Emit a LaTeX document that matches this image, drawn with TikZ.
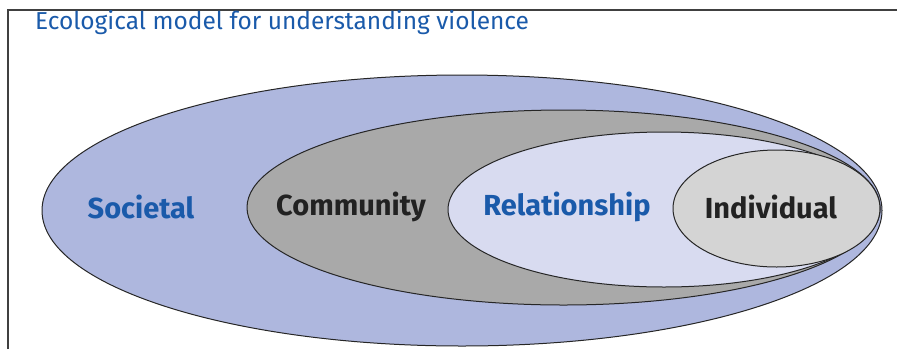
\documentclass[tikz,border=0pt]{standalone}
\usepackage{fontspec}
\setmainfont{Fira Sans}
\definecolor{societalfill}{HTML}{AEB7DE}
\definecolor{communityfill}{HTML}{A9A9A9}
\definecolor{relationfill}{HTML}{D8DBF0}
\definecolor{individualfill}{HTML}{D4D4D4}
\definecolor{labelblue}{HTML}{1A5AAA}
\definecolor{labeldark}{HTML}{222222}
\begin{document}
\begin{tikzpicture}[x=1pt,y=-1pt,
  ring/.style={draw=black!85,line width=1pt},
  ringlabel/.style={font=\bfseries\fontsize{29}{32}\selectfont,inner sep=0pt},
  frameline/.style={draw=black!75,line width=1.6pt}]
  \useasboundingbox (0,0) rectangle (897,349);
  % frame edges
  \draw[frameline] (8,349) -- (8,10) -- (897,10);
  % title
  \node[anchor=west,text=labelblue,font=\fontsize{24.5}{28}\selectfont,inner sep=0pt] (title) at (35,23) {Ecological model for understanding violence};
  % nested levels, outermost first
  \filldraw[ring,fill=societalfill] (462,210.5) ellipse [x radius=420,y radius=135.5];
  \filldraw[ring,fill=communityfill] (563.5,207.5) ellipse [x radius=316.5,y radius=97.5];
  \filldraw[ring,fill=relationfill] (664,209.5) ellipse [x radius=216,y radius=77.5];
  \filldraw[ring,fill=individualfill] (776.5,208.5) ellipse [x radius=103.5,y radius=58.5];
  % level names
  \node[ringlabel,text=labelblue] (societal) at (141,207) {Societal};
  \node[ringlabel,text=labeldark] (community) at (351,207) {Community};
  \node[ringlabel,text=labelblue] (relationship) at (567,207) {Relationship};
  \node[ringlabel,text=labeldark] (individual) at (771,207) {Individual};
\end{tikzpicture}
\end{document}
